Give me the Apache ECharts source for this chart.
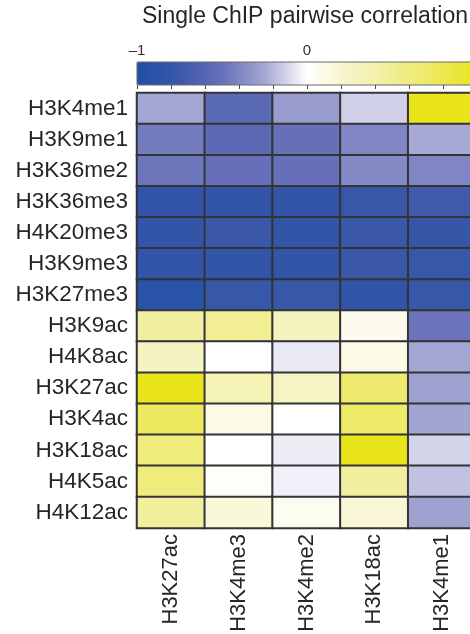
<!DOCTYPE html>
<html>
<head>
<meta charset="utf-8">
<script src="https://cdn.jsdelivr.net/npm/echarts@6/dist/echarts.min.js"></script>
<style>
  html, body { margin: 0; padding: 0; background: #ffffff; }
  #chart { width: 470px; height: 634px; }
</style>
</head>
<body>
<div id="chart"></div>
<script>
// Histone marks along the rows (top to bottom) and the columns (left to right)
var rowMarks = ['H3K4me1', 'H3K9me1', 'H3K36me2', 'H3K36me3', 'H4K20me3', 'H3K9me3', 'H3K27me3',
                'H3K9ac', 'H4K8ac', 'H3K27ac', 'H3K4ac', 'H3K18ac', 'H4K5ac', 'H4K12ac'];
var colMarks = ['H3K27ac', 'H3K4me3', 'H3K4me2', 'H3K18ac', 'H3K4me1'];

// Pairwise correlation of single ChIP profiles, one array per column
var corrH3K27ac = [-0.25, -0.45, -0.47, -0.82, -0.82, -0.82, -0.90, 0.45, 0.28, 1.00, 0.75, 0.62, 0.62, 0.47];
var corrH3K4me3 = [-0.57, -0.56, -0.50, -0.83, -0.77, -0.82, -0.79, 0.52, 0.00, 0.35, 0.12, 0.00, 0.03, 0.17];
var corrH3K4me2 = [-0.30, -0.50, -0.50, -0.82, -0.82, -0.83, -0.79, 0.30, -0.06, 0.27, 0.01, -0.05, -0.04, 0.07];
var corrH3K18ac = [-0.13, -0.40, -0.38, -0.78, -0.76, -0.76, -0.85, 0.08, 0.12, 0.68, 0.70, 1.00, 0.45, 0.18];
var corrH3K4me1 = [1.00, -0.24, -0.40, -0.72, -0.80, -0.79, -0.79, -0.48, -0.25, -0.27, -0.26, -0.12, -0.17, -0.27];

// Colour scale range and the labelled ticks of the scale bar
var scaleMin = -1;
var scaleMax = 1;
var scaleTickLabels = [-1, 0];

var columns = [corrH3K27ac, corrH3K4me3, corrH3K4me2, corrH3K18ac, corrH3K4me1];
var cells = [];
columns.forEach(function (col, ci) {
  col.forEach(function (v, ri) {
    cells.push([ci, ri, v]);
  });
});

var FONT = 'Liberation Sans';
var chart = echarts.init(document.getElementById('chart'), null, { renderer: 'canvas' });

chart.setOption({
  backgroundColor: '#ffffff',
  animation: false,
  title: {
    text: 'Single ChIP pairwise correlation',
    left: 142,
    top: 5,
    padding: 0,
    textStyle: { fontFamily: FONT, fontSize: 23, fontWeight: 'normal', color: '#262626' }
  },
  grid: [
    { left: 137, top: 93, width: 339, height: 435, outerBoundsMode: 'none', containLabel: false },
    { left: 137, top: 62, width: 340, height: 23, show: true, z: 10, outerBoundsMode: 'none',
      borderColor: '#6a6a6a', borderWidth: 1, backgroundColor: 'transparent' }
  ],
  visualMap: {
    type: 'continuous',
    min: scaleMin,
    max: scaleMax,
    seriesIndex: 0,
    orient: 'horizontal',
    left: 137,
    top: 62,
    itemWidth: 23,
    itemHeight: 340,
    padding: 0,
    text: null,
    showLabel: false,
    calculable: false,
    hoverLink: false,
    realtime: false,
    z: 4,
    inRange: {
      color: ['#1d4fa5', '#3c58a8', '#6670b8', '#a4a6d3', '#ffffff',
              '#f6f4c6', '#f1ee98', '#ede95e', '#eae51a']
    }
  },
  xAxis: [
    {
      type: 'category',
      gridIndex: 0,
      data: colMarks,
      position: 'bottom',
      axisLine: { show: false },
      axisTick: { show: false },
      splitLine: { show: false },
      axisLabel: {
        rotate: 90,
        margin: 6,
        fontFamily: FONT,
        fontSize: 22,
        color: '#262626'
      }
    },
    {
      type: 'value',
      gridIndex: 1,
      min: scaleMin,
      max: scaleMax,
      interval: 0.2,
      position: 'top',
      z: 10,
      axisLine: { show: false },
      splitLine: { show: false },
      axisTick: { show: true, inside: true, length: 4, lineStyle: { color: '#4a4a4a', width: 1 } },
      axisLabel: {
        margin: 4,
        fontFamily: FONT,
        fontSize: 15,
        color: '#333333',
        showMinLabel: true,
        formatter: function (v) {
          var hit = scaleTickLabels.some(function (t) { return Math.abs(t - v) < 1e-9; });
          if (!hit) return '';
          return v < 0 ? '\u2013' + Math.abs(v) : String(v);
        }
      }
    }
  ],
  yAxis: [
    {
      type: 'category',
      gridIndex: 0,
      data: rowMarks,
      inverse: true,
      axisLine: { show: false },
      axisTick: { show: false },
      splitLine: { show: false },
      axisLabel: {
        margin: 9,
        fontFamily: FONT,
        fontSize: 22.5,
        color: '#262626'
      }
    },
    {
      type: 'value',
      gridIndex: 1,
      show: false,
      min: 0,
      max: 1
    }
  ],
  series: [
    {
      type: 'heatmap',
      xAxisIndex: 0,
      yAxisIndex: 0,
      data: cells,
      itemStyle: { borderColor: '#333338', borderWidth: 2 },
      emphasis: { disabled: true }
    }
  ]
});
</script>
</body>
</html>
